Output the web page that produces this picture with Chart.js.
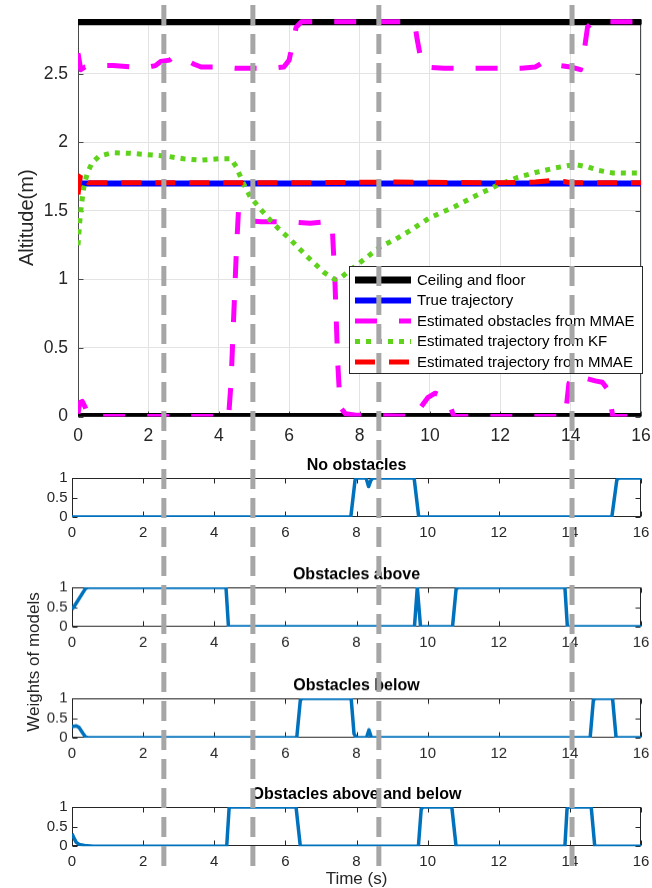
<!DOCTYPE html>
<html><head><meta charset="utf-8">
<script src="https://cdn.jsdelivr.net/npm/chart.js@4.4.1/dist/chart.umd.min.js"></script>
<style>
html,body{margin:0;padding:0;background:#fff;}
#wrap{position:relative;width:652px;height:888px;overflow:hidden;background:#fff;}
canvas{position:absolute;left:0;}
</style></head><body>
<div id="wrap">
<canvas id="main"></canvas>
<canvas id="w1"></canvas>
<canvas id="w2"></canvas>
<canvas id="w3"></canvas>
<canvas id="w4"></canvas>
<canvas id="ov" style="pointer-events:none"></canvas>
</div>
<script>
// ---------------- data ----------------
const X_TICKS = [0, 2, 4, 6, 8, 10, 12, 14, 16];
const ALT_TICKS = [0, 0.5, 1, 1.5, 2, 2.5];
const W_TICKS = [0, 0.5, 1];

const ceilT = [0, 16], ceilV = [2.88, 2.88];
const floorT = [0, 16], floorV = [0, 0];
const trueT = [0, 16], trueV = [1.7, 1.7];

const obsUpT = [0, 0.08, 0.2, 0.5, 1.0, 1.5, 2.0, 2.2, 2.35, 2.6, 2.7, 3.0, 3.3, 3.5, 4.0, 4.5, 5.0, 5.5, 5.85, 6.0, 6.1, 6.2, 6.35, 9.45, 9.58, 9.64, 9.75, 9.85, 10.4, 11.0, 12.0, 12.6, 13.0, 13.25, 13.45, 13.7, 14.0, 14.28, 14.36, 14.48, 14.62, 16];
const obsUpV = [2.65, 2.53, 2.55, 2.56, 2.56, 2.55, 2.55, 2.56, 2.59, 2.6, 2.62, 2.61, 2.57, 2.55, 2.55, 2.54, 2.54, 2.54, 2.55, 2.6, 2.72, 2.84, 2.88, 2.88, 2.85, 2.75, 2.6, 2.55, 2.54, 2.54, 2.54, 2.54, 2.55, 2.59, 2.58, 2.56, 2.55, 2.53, 2.62, 2.84, 2.88, 2.88];

const obsLoT = [0, 0.05, 0.12, 0.2, 0.28, 0.35, 4.28, 4.35, 4.42, 4.5, 4.56, 4.65, 4.8, 5.2, 6.0, 6.6, 7.0, 7.22, 7.3, 7.38, 7.45, 7.6, 7.9, 9.6, 9.75, 9.95, 10.15, 10.35, 10.5, 10.6, 10.68, 13.85, 13.95, 14.05, 14.2, 14.4, 14.7, 14.9, 15.05, 15.12, 15.2, 16];
const obsLoV = [0.02, 0.1, 0.11, 0.07, 0.02, 0, 0, 0.25, 0.7, 1.2, 1.5, 1.48, 1.43, 1.42, 1.42, 1.41, 1.42, 1.41, 1.0, 0.4, 0.07, 0.02, 0.01, 0, 0.07, 0.14, 0.17, 0.15, 0.12, 0.06, 0, 0, 0.24, 0.29, 0.3, 0.28, 0.26, 0.25, 0.2, 0.12, 0, 0];

const kfT = [0, 0.05, 0.1, 0.17, 0.27, 0.4, 0.6, 1.0, 1.5, 2.0, 2.5, 3.0, 3.5, 4.0, 4.35, 4.5, 4.7, 4.9, 5.1, 5.4, 5.7, 6.0, 6.5, 7.0, 7.3, 7.5, 7.9, 8.3, 8.6, 9.0, 9.4, 10.0, 10.7, 11.3, 11.9, 12.5, 13.0, 13.5, 13.9, 14.2, 14.5, 14.8, 15.2, 15.6, 16];
const kfV = [1.25, 1.42, 1.55, 1.68, 1.78, 1.85, 1.9, 1.925, 1.92, 1.91, 1.9, 1.88, 1.87, 1.88, 1.88, 1.82, 1.7, 1.6, 1.54, 1.45, 1.37, 1.3, 1.17, 1.05, 1.0, 1.02, 1.1, 1.18, 1.24, 1.29, 1.35, 1.45, 1.53, 1.61, 1.685, 1.745, 1.78, 1.81, 1.83, 1.835, 1.82, 1.795, 1.777, 1.776, 1.776];

const mmaeT = [0, 0.03, 0.07, 0.12, 0.18, 0.3, 3, 6, 9, 12, 13.0, 13.4, 13.8, 14.0, 16];
const mmaeV = [1.62, 1.68, 1.76, 1.78, 1.73, 1.705, 1.705, 1.705, 1.71, 1.705, 1.71, 1.72, 1.715, 1.705, 1.705];

const LEGEND_LABELS = ['Ceiling and floor', 'True trajectory', 'Estimated obstacles from MMAE', 'Estimated trajectory from KF', 'Estimated trajectory from MMAE'];

const SUB_TITLES = ['No obstacles', 'Obstacles above', 'Obstacles below', 'Obstacles above and below'];
const w1T = [0, 7.84, 7.96, 8.0, 8.27, 8.34, 8.41, 8.46, 9.62, 9.75, 15.18, 15.32, 15.38, 16];
const w1V = [0, 0, 0.95, 1, 1, 0.78, 0.95, 1, 1, 0, 0, 0.95, 1, 1];
const w2T = [0, 0.05, 0.38, 0.45, 4.33, 4.4, 9.63, 9.71, 9.8, 10.7, 10.8, 10.86, 13.86, 13.93, 16];
const w2V = [0.45, 0.5, 0.97, 1, 1, 0, 0, 1, 0, 0, 0.95, 1, 1, 0, 0];
const w3T = [0, 0.12, 0.2, 0.3, 0.38, 0.45, 6.32, 6.42, 6.47, 7.85, 7.93, 8.0, 8.28, 8.35, 8.42, 14.57, 14.66, 14.71, 15.2, 15.3, 16];
const w3V = [0.28, 0.3, 0.26, 0.12, 0.02, 0, 0, 0.95, 1, 1, 0.1, 0, 0, 0.2, 0, 0, 0.95, 1, 1, 0, 0];
const w4T = [0, 0.06, 0.12, 0.2, 0.35, 0.6, 4.35, 4.42, 6.3, 6.42, 9.74, 9.82, 9.87, 10.68, 10.8, 13.86, 13.92, 13.96, 14.6, 14.7, 16];
const w4V = [0.32, 0.2, 0.1, 0.05, 0.02, 0, 0, 1, 1, 0, 0, 0.95, 1, 1, 0, 0, 0.95, 1, 1, 0, 0];

const VLINE_T = [2.44, 4.97, 8.55, 14.04];

// ---------------- styling / layout ----------------
const FONT = '"Liberation Sans", Arial, Helvetica, sans-serif';
const TXT = '#262626';
Chart.defaults.font.family = FONT;
Chart.defaults.color = TXT;
const W = 652, H = 888;

function setCanvas(id, top, h) {
  const c = document.getElementById(id);
  c.width = W; c.height = h;
  c.style.width = W + 'px'; c.style.height = h + 'px';
  c.style.top = top + 'px';
  return c;
}
function pts(t, v) { return t.map((x, i) => ({x: x, y: v[i]})); }
function ds(t, v, extra) {
  return Object.assign({data: pts(t, v), pointRadius: 0, tension: 0, fill: false, borderCapStyle: 'butt', borderJoinStyle: 'round'}, extra);
}
function fixedTicks(arr) { return s => { s.ticks = arr.map(v => ({value: v})); }; }
function fitH(h) { return s => { s.height = h; s.paddingLeft = 0; s.paddingRight = 0; s.paddingTop = 0; s.paddingBottom = 0; }; }
function fitW(w) { return s => { s.width = w; s.paddingLeft = 0; s.paddingRight = 0; s.paddingTop = 0; s.paddingBottom = 0; }; }

// box + inward ticks
const boxPlugin = {
  id: 'box',
  beforeDatasetsDraw(chart, args, o) {
    const {ctx, chartArea: a, scales: {x, y}} = chart;
    const L = Math.round(a.left) + 0.5, R = Math.round(a.right) - 0.5, T = Math.round(a.top) + 0.5, B = Math.round(a.bottom) - 0.5;
    ctx.save();
    ctx.strokeStyle = o.color || '#262626'; ctx.lineWidth = 1; ctx.setLineDash([]);
    ctx.strokeRect(L, T, R - L, B - T);
    const tl = o.len || 5;
    ctx.beginPath();
    x.ticks.forEach(t => {
      const px = Math.round(x.getPixelForValue(t.value)) + 0.5;
      ctx.moveTo(px, B); ctx.lineTo(px, B - tl);
      ctx.moveTo(px, T); ctx.lineTo(px, T + tl);
    });
    y.ticks.forEach(t => {
      const py = Math.round(y.getPixelForValue(t.value)) + 0.5;
      ctx.moveTo(L, py); ctx.lineTo(L + tl, py);
      ctx.moveTo(R, py); ctx.lineTo(R - tl, py);
    });
    ctx.stroke();
    ctx.restore();
  }
};

const legendPlugin = {
  id: 'mmLegend',
  afterDatasetsDraw(chart, args, o) {
    const ctx = chart.ctx;
    ctx.save();
    ctx.fillStyle = '#fff';
    ctx.fillRect(o.left, o.top, o.right - o.left, o.bottom - o.top);
    ctx.strokeStyle = '#262626'; ctx.lineWidth = 1; ctx.setLineDash([]);
    ctx.strokeRect(o.left + 0.5, o.top + 0.5, o.right - o.left - 1, o.bottom - o.top - 1);
    LEGEND_LABELS.forEach((lab, i) => {
      const d = chart.data.datasets[o.datasets[i]];
      const yy = o.rowTop + i * o.rowStep;
      ctx.beginPath();
      ctx.setLineDash(d.borderDash || []);
      ctx.lineCap = 'butt';
      ctx.strokeStyle = d.borderColor; ctx.lineWidth = d.borderWidth;
      ctx.moveTo(o.sampleX0, yy); ctx.lineTo(o.sampleX1, yy); ctx.stroke();
      ctx.setLineDash([]);
      ctx.fillStyle = '#000'; ctx.font = '15px ' + FONT;
      ctx.textBaseline = 'middle'; ctx.textAlign = 'left';
      ctx.fillText(lab, o.textX, yy + 0.5);
    });
    ctx.restore();
  }
};

const subTitlePlugin = {
  id: 'subTitle',
  afterDraw(chart, args, o) {
    const {ctx, chartArea: a} = chart;
    ctx.save();
    ctx.fillStyle = '#000'; ctx.font = 'bold 16px ' + FONT;
    ctx.textAlign = 'center'; ctx.textBaseline = 'middle';
    ctx.fillText(o.text, (a.left + a.right) / 2, a.top - o.gap);
    ctx.restore();
  }
};

// ---------------- main chart ----------------
const MAIN_H = 460, MAIN_TOP_PAD = 19, MAIN_PLOT_H = 397.5;
const mainCanvas = setCanvas('main', 0, MAIN_H);
const mainChart = new Chart(mainCanvas, {
  type: 'line',
  data: {datasets: [
    ds(ceilT, ceilV, {borderColor: '#000000', borderWidth: 7, order: 9}),
    ds(trueT, trueV, {borderColor: '#0000ff', borderWidth: 6, order: 8}),
    ds(obsUpT, obsUpV, {borderColor: '#ff00ff', borderWidth: 5, borderDash: [22, 22], order: 7}),
    ds(kfT, kfV, {borderColor: '#5fd21c', borderWidth: 5, borderDash: [5, 6], order: 5}),
    ds(mmaeT, mmaeV, {borderColor: '#ff0000', borderWidth: 5, borderDash: [20, 14], order: 4}),
    ds(floorT, floorV, {borderColor: '#000000', borderWidth: 7, order: 9}),
    ds(obsLoT, obsLoV, {borderColor: '#ff00ff', borderWidth: 5, borderDash: [22, 22], order: 6})
  ]},
  options: {
    responsive: false, animation: false, events: [],
    layout: {padding: {top: MAIN_TOP_PAD, right: W - 641, left: 0, bottom: 0}},
    plugins: {
      legend: {display: false}, tooltip: {enabled: false},
      box: {color: '#4a4a4a', len: 5},
      mmLegend: {left: 349, top: 266, right: 643, bottom: 374, rowTop: 280, rowStep: 20.5, sampleX0: 355, sampleX1: 411, textX: 417, datasets: [0, 1, 2, 3, 4]}
    },
    scales: {
      x: {
        type: 'linear', min: 0, max: 16, afterBuildTicks: fixedTicks(X_TICKS),
        ticks: {font: {size: 17.5}, color: TXT, padding: 9, maxRotation: 0, autoSkip: false, callback: v => String(v)},
        grid: {color: '#e3e3e3', lineWidth: 1, drawTicks: false},
        border: {display: false},
        afterFit: fitH(MAIN_H - MAIN_TOP_PAD - MAIN_PLOT_H)
      },
      y: {
        type: 'linear', min: 0, max: 2.9, afterBuildTicks: fixedTicks(ALT_TICKS),
        ticks: {font: {size: 17.5}, color: TXT, padding: 10, autoSkip: false, callback: v => String(v)},
        grid: {color: '#e3e3e3', lineWidth: 1, drawTicks: false},
        border: {display: false},
        title: {display: true, text: 'Altitude(m)', font: {size: 20}, color: TXT, padding: {top: 15, bottom: 0}},
        afterFit: fitW(78)
      }
    }
  },
  plugins: [boxPlugin, legendPlugin]
});

// ---------------- weight subplots ----------------
const SUB_TOPS = [477.5, 587, 698, 806.8];
const SUB_PT = 30, SUB_PH = 39.5;
const SUB_DATA = [[w1T, w1V], [w2T, w2V], [w3T, w3V], [w4T, w4V]];
SUB_DATA.forEach((d, i) => {
  const last = i === 3;
  const top = SUB_TOPS[i] - SUB_PT;
  const h = last ? H - top : SUB_PT + SUB_PH + 28;
  const c = setCanvas('w' + (i + 1), top, h);
  new Chart(c, {
    type: 'line',
    data: {datasets: [ds(d[0], d[1], {borderColor: '#0072bd', borderWidth: 3.5})]},
    options: {
      responsive: false, animation: false, events: [],
      layout: {padding: {top: SUB_PT, right: W - 641, left: 0, bottom: 0}},
      plugins: {legend: {display: false}, tooltip: {enabled: false}, box: {color: '#262626', len: 5}, subTitle: {text: SUB_TITLES[i], gap: 12}},
      scales: {
        x: {
          type: 'linear', min: 0, max: 16, afterBuildTicks: fixedTicks(X_TICKS),
          ticks: {font: {size: 15}, color: TXT, padding: 6.5, maxRotation: 0, autoSkip: false, callback: v => String(v)},
          grid: {display: false, drawTicks: false}, border: {display: false},
          title: {display: last, text: 'Time (s)', font: {size: 17, lineHeight: 1}, color: TXT, padding: {top: 0, bottom: 0}},
          afterFit: fitH(h - SUB_PT - SUB_PH)
        },
        y: {
          type: 'linear', min: 0, max: 1, afterBuildTicks: fixedTicks(W_TICKS),
          ticks: {font: {size: 15}, color: TXT, padding: 4.5, autoSkip: false, callback: v => String(v)},
          grid: {display: false, drawTicks: false}, border: {display: false},
          afterFit: fitW(72)
        }
      }
    },
    plugins: [boxPlugin, subTitlePlugin]
  });
});

// ---------------- overlay: vertical dashed lines + shared y label ----------------
const VLINE_Y0 = 5, VLINE_Y1 = 866;
const vData = [];
VLINE_T.forEach(t => { vData.push({x: t, y: VLINE_Y0}, {x: t, y: VLINE_Y1}, {x: t, y: null}); });
const weightsLabelPlugin = {
  id: 'wLabel',
  afterDraw(chart) {
    const ctx = chart.ctx;
    ctx.save();
    ctx.translate(34, 662); ctx.rotate(-Math.PI / 2);
    ctx.fillStyle = TXT; ctx.font = '17px ' + FONT;
    ctx.textAlign = 'center'; ctx.textBaseline = 'middle';
    ctx.fillText('Weights of models', 0, 0);
    ctx.restore();
  }
};
const ovCanvas = setCanvas('ov', 0, H);
const mx = mainChart.scales.x;
new Chart(ovCanvas, {
  type: 'line',
  data: {datasets: [{data: vData, borderColor: '#a6a6a6', borderWidth: 5, borderDash: [20, 9], borderCapStyle: 'butt', pointRadius: 0, spanGaps: false, tension: 0}]},
  options: {
    responsive: false, animation: false, events: [],
    layout: {padding: 0},
    plugins: {legend: {display: false}, tooltip: {enabled: false}},
    scales: {
      x: {type: 'linear', display: false, min: mx.getValueForPixel(0), max: mx.getValueForPixel(W)},
      y: {type: 'linear', display: false, min: 0, max: H, reverse: true}
    }
  },
  plugins: [weightsLabelPlugin]
});
</script>
</body></html>
